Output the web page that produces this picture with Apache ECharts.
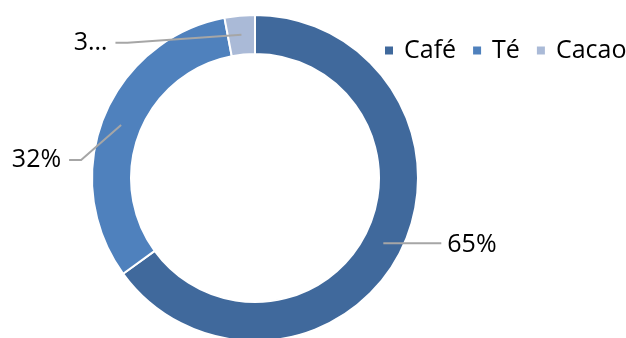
<!DOCTYPE html>
<html><head><meta charset="utf-8">
<script src="https://cdn.jsdelivr.net/npm/echarts@6/dist/echarts.min.js"></script>
<style>html,body{margin:0;padding:0;background:#fff}#c{width:626px;height:338px}</style>
</head><body><div id="c"></div>
<script>
const categories = ['Café', 'Té', 'Cacao'];
const values = [65, 32, 3];
const labelTexts = ['65%', '32%', '3…'];
const colors = ['#40699C', '#4F81BD', '#AABAD7'];

const chart = echarts.init(document.getElementById('c'), null, {renderer: 'canvas'});
const center = [255, 178];
const ringData = categories.map((n, i) => ({name: n, value: values[i], itemStyle: {color: colors[i]}}));
const labelData = categories.map((n, i) => ({name: n, value: values[i], label: {formatter: labelTexts[i]}}));
const labelShift = [[2, 2], [2, 35], [-72, 8]];
chart.setOption({
  animation: false,
  backgroundColor: '#fff',
  legend: {
    data: categories, left: 378, top: 33, width: 260, orient: 'horizontal',
    icon: 'rect', itemWidth: 10, itemHeight: 10, itemGap: 15,
    textStyle: {fontFamily: 'Open Sans', fontSize: 25, color: '#000', padding: [0, 0, 0, 5]}
  },
  series: [
    {
      type: 'pie', center: center, radius: [124, 163], startAngle: 90, clockwise: true,
      silent: true, label: {show: false}, labelLine: {show: false},
      itemStyle: {borderColor: '#fff', borderWidth: 2},
      data: ringData, z: 1
    },
    {
      type: 'pie', center: center, radius: [0, 144], startAngle: 90, clockwise: true,
      silent: true, legendHoverLink: false, z: 3,
      itemStyle: {color: 'rgba(0,0,0,0)', borderWidth: 0},
      label: {show: true, position: 'outside', fontFamily: 'Open Sans', fontSize: 25, color: '#000',
              distanceToLabelLine: 6, overflow: 'none', edgeDistance: 0},
      labelLine: {show: true, length: 0, length2: 56, smooth: false, lineStyle: {color: '#A6A6A6', width: 2}},
      labelLayout: function (p) {
        const s = labelShift[p.dataIndex];
        const r = p.labelRect;
        const start = p.labelLinePoints[0];
        const nx = r.x + s[0], ny = r.y + s[1];
        const cy = ny + r.height / 2;
        let pts;
        if (start[0] > center[0]) {
          const end = [nx - 6, start[1]];
          pts = [start, [(start[0] + end[0]) / 2, start[1]], end];
        } else {
          const end = [nx + r.width + 8, cy];
          pts = [start, [end[0] + 12, cy], end];
        }
        return {dx: s[0], dy: s[1], hideOverlap: false, labelLinePoints: pts};
      },
      data: labelData
    }
  ]
});
</script></body></html>
